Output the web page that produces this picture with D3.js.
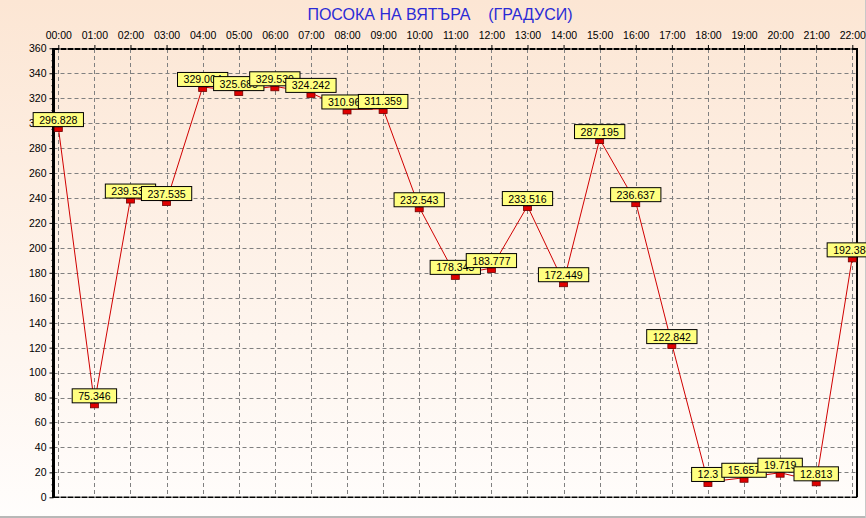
<!DOCTYPE html>
<html>
<head>
<meta charset="utf-8">
<script src="https://cdn.jsdelivr.net/npm/d3@7"></script>
<style>
  html, body { margin: 0; padding: 0; background: #fff; }
  svg { display: block; }
</style>
</head>
<body>
<svg id="chart" width="866" height="518"></svg>
<script>
const hours = ["00:00","01:00","02:00","03:00","04:00","05:00","06:00","07:00","08:00","09:00","10:00","11:00",
               "12:00","13:00","14:00","15:00","16:00","17:00","18:00","19:00","20:00","21:00","22:00"];
const values = [296.828, 75.346, 239.534, 237.535, 329.004, 325.685, 329.539, 324.242, 310.963, 311.359, 232.543, 178.343,
                183.777, 233.516, 172.449, 287.195, 236.637, 122.842, 12.3, 15.657, 19.719, 12.813, 192.384];
const yTicks = [0,20,40,60,80,100,120,140,160,180,200,220,240,260,280,300,320,340,360];
const title = "ПОСОКА НА ВЯТЪРА    (ГРАДУСИ)";

const W = 866, H = 518;
const plot = {left: 53.5, right: 857, top: 49, bottom: 497.3};
const svg = d3.select("#chart");

const defs = svg.append("defs");
const grad = defs.append("linearGradient").attr("id","bg").attr("x1",0).attr("y1",0).attr("x2",0).attr("y2",1);
grad.append("stop").attr("offset","0%").attr("stop-color","#fce6d4");
grad.append("stop").attr("offset","100%").attr("stop-color","#fffdfc");

svg.append("rect").attr("width",W).attr("height",H).attr("fill","url(#bg)");
// outer frame lines (bottom, right)
svg.append("line").attr("x1",0).attr("x2",W).attr("y1",517).attr("y2",517).attr("stroke","#a0a0a0").attr("stroke-width",1.5);
svg.append("line").attr("x1",865.5).attr("x2",865.5).attr("y1",0).attr("y2",518).attr("stroke","#c8c8c8").attr("stroke-width",1);

const x = d3.scalePoint().domain(hours).range([58.3, 852.3]);
const y = d3.scaleLinear().domain([0,360]).range([plot.bottom, plot.top - 0.7]);

// grid
const grid = svg.append("g").attr("stroke","#808080").attr("stroke-width",1).attr("stroke-dasharray","4,3").attr("fill","none");
hours.forEach(h => {
  grid.append("line").attr("x1",Math.round(x(h))+0.5).attr("x2",Math.round(x(h))+0.5)
    .attr("y1",plot.top).attr("y2",plot.bottom);
});
yTicks.filter(v => v>0 && v<360).forEach(v => {
  grid.append("line").attr("x1",plot.left).attr("x2",plot.right)
    .attr("y1",Math.round(y(v))+0.5).attr("y2",Math.round(y(v))+0.5);
});

// borders
svg.append("line").attr("x1",plot.left).attr("x2",plot.right).attr("y1",plot.top).attr("y2",plot.top)
  .attr("stroke","#000").attr("stroke-width",2).attr("stroke-dasharray","6,1");
svg.append("line").attr("x1",plot.left).attr("x2",plot.right).attr("y1",plot.bottom).attr("y2",plot.bottom)
  .attr("stroke","#000").attr("stroke-width",1.5).attr("stroke-dasharray","6,1");
svg.append("line").attr("x1",plot.right).attr("x2",plot.right).attr("y1",plot.top-1).attr("y2",plot.bottom)
  .attr("stroke","#000").attr("stroke-width",2);

// left axis
const yAxis = d3.axisLeft(y).tickValues(yTicks).tickSize(4).tickPadding(3).tickFormat(d3.format("d"));
const ya = svg.append("g").attr("transform",`translate(${plot.left},0)`).call(yAxis);
ya.select(".domain").remove();
ya.selectAll("text").attr("font-family","Liberation Sans, Arial, sans-serif").attr("font-size","10.5px").attr("fill","#000");
ya.selectAll("line").attr("stroke","#000");
const minor = d3.range(0,361,5).filter(v => v%20!==0);
svg.append("g").selectAll("line").data(minor).join("line")
  .attr("x1",plot.left-2).attr("x2",plot.left).attr("y1",d=>y(d)).attr("y2",d=>y(d)).attr("stroke","#000");
svg.append("line").attr("x1",plot.left).attr("x2",plot.left).attr("y1",plot.top-1).attr("y2",plot.bottom+0.7)
  .attr("stroke","#000").attr("stroke-width",3);

// top axis
const xAxis = d3.axisTop(x).tickSize(4).tickPadding(6);
const xa = svg.append("g").attr("transform",`translate(0,${plot.top})`).call(xAxis);
xa.select(".domain").remove();
xa.selectAll("text").attr("font-family","Liberation Sans, Arial, sans-serif").attr("font-size","10.5px").attr("fill","#000");
xa.selectAll("line").attr("stroke","#000");

// title
svg.append("text").attr("x",440).attr("y",19.5).attr("text-anchor","middle")
  .attr("font-family","Liberation Sans, Arial, sans-serif").attr("font-size","16px").attr("fill","#2b2bd6")
  .style("white-space","pre").text(title);

// line
const line = d3.line().x((d,i)=>x(hours[i])).y(d=>y(d));
svg.append("path").datum(values).attr("d",line).attr("fill","none").attr("stroke","#d00000").attr("stroke-width",1);

// markers
svg.append("g").selectAll("rect").data(values).join("rect")
  .attr("x",(d,i)=>x(hours[i])-4).attr("y",d=>y(d)).attr("width",8).attr("height",4.5)
  .attr("fill","#e00000").attr("stroke","#700000").attr("stroke-width",0.8);

// labels
const lg = svg.append("g");
values.forEach((v,i) => {
  const cx = x(hours[i]), cy = y(v);
  const g = lg.append("g");
  const r = g.append("rect").attr("fill","#ffff80").attr("stroke","#000").attr("stroke-width",1);
  const t = g.append("text").attr("x",cx).attr("y",cy-3.5).attr("text-anchor","middle")
    .attr("font-family","Liberation Sans, Arial, sans-serif").attr("font-size","10.6px").attr("fill","#000")
    .text(String(v));
  const w = t.node().getComputedTextLength() + 12;
  r.attr("x",cx - w/2).attr("y",cy-14.5).attr("width",w).attr("height",14);
});
</script>
</body>
</html>
